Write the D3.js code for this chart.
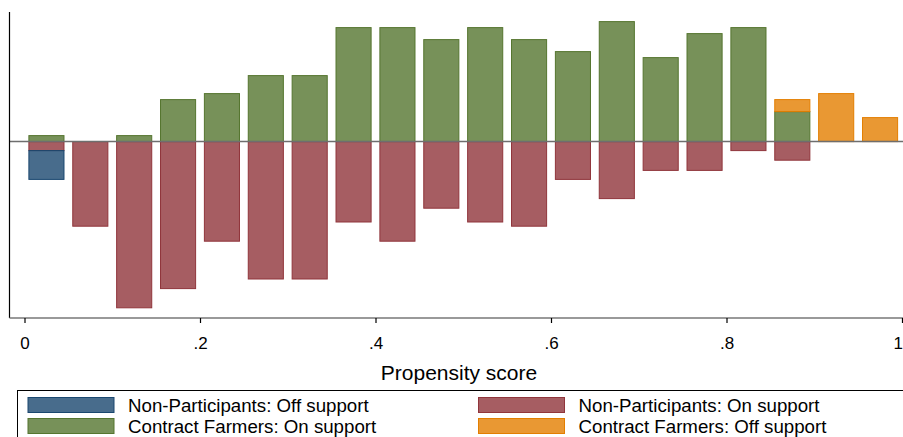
<!DOCTYPE html>
<html>
<head>
<meta charset="utf-8">
<script src="https://cdnjs.cloudflare.com/ajax/libs/d3/7.8.5/d3.min.js"></script>
<style>
body { margin: 0; background: #fff; }
#chart text { font-family: "Liberation Sans", Arial, Helvetica, sans-serif; fill: #000; }
</style>
</head>
<body>
<div id="chart"></div>
<script>
// bin centres of the propensity score histogram
var bins = [0.025, 0.075, 0.125, 0.175, 0.225, 0.275, 0.325, 0.375, 0.425, 0.475,
            0.525, 0.575, 0.625, 0.675, 0.725, 0.775, 0.825, 0.875, 0.925, 0.975];
// contract farmers (plotted above zero)
var treatedOn  = [1, 0, 1, 7, 8, 11, 11, 19, 19, 17, 19, 17, 15, 20, 14, 18, 19, 5, 0, 0];
var treatedOff = [0, 0, 0, 0, 0, 0, 0, 0, 0, 0, 0, 0, 0, 0, 0, 0, 0, 2, 8, 4];
// non-participants (plotted below zero)
var untreatedOn  = [1.5, 14.1, 27.7, 24.5, 16.6, 22.9, 22.9, 13.4, 16.6, 11.1,
                    13.4, 14.1, 6.3, 9.5, 4.8, 4.8, 1.5, 3.1, 0, 0];
var untreatedOff = [4.8, 0, 0, 0, 0, 0, 0, 0, 0, 0, 0, 0, 0, 0, 0, 0, 0, 0, 0, 0];
var xTicks = [0, 0.2, 0.4, 0.6, 0.8, 1];
var tickLabels = ["0", ".2", ".4", ".6", ".8", "1"];
var legendLabels = ["Non-Participants: Off support", "Non-Participants: On support",
                    "Contract Farmers: On support", "Contract Farmers: Off support"];

var colors = {
	uOff: {fill: "rgba(26,71,111,0.8)", stroke: "#1a476f"},
	uOn:  {fill: "rgba(144,53,59,0.8)", stroke: "#90353b"},
	tOn:  {fill: "rgba(85,117,47,0.8)", stroke: "#55752f"},
	tOff: {fill: "rgba(227,126,0,0.8)", stroke: "#e37e00"}
};

var width = 903, height = 437;
var plot = {left: 9.5, top: 12, bottom: 318};
var barWidth = 0.04;

var svg = d3.select("#chart").append("svg")
	.attr("width", width)
	.attr("height", height);

var x = d3.scaleLinear().domain([0, 1]).range([24.5, 902]);
var y = d3.scaleLinear().domain([-29.4, 21.6]).range([plot.bottom, plot.top]);

// build stacked segments
var segs = [];
bins.forEach(function(b, i) {
	segs.push({b: b, y0: 0, y1: treatedOn[i], c: colors.tOn});
	segs.push({b: b, y0: treatedOn[i], y1: treatedOn[i] + treatedOff[i], c: colors.tOff});
	segs.push({b: b, y0: 0, y1: -untreatedOn[i], c: colors.uOn});
	segs.push({b: b, y0: -untreatedOn[i], y1: -untreatedOn[i] - untreatedOff[i], c: colors.uOff});
});
segs = segs.filter(function(d) { return d.y1 !== d.y0; });

svg.selectAll(".bar")
	.data(segs)
  .enter().append("rect")
	.attr("class", "bar")
	.attr("x", function(d) { return x(d.b - barWidth / 2); })
	.attr("width", function(d) { return x(barWidth) - x(0); })
	.attr("y", function(d) { return y(Math.max(d.y0, d.y1)); })
	.attr("height", function(d) { return Math.abs(y(d.y0) - y(d.y1)); })
	.attr("fill", function(d) { return d.c.fill; })
	.attr("stroke", function(d) { return d.c.stroke; })
	.attr("stroke-width", 1);

// zero line
svg.append("line")
	.attr("x1", plot.left).attr("x2", width)
	.attr("y1", y(0)).attr("y2", y(0))
	.attr("stroke", "#6e6e6e").attr("stroke-width", 1.5);

// y axis line (no labels)
svg.append("line")
	.attr("x1", plot.left).attr("x2", plot.left)
	.attr("y1", plot.top).attr("y2", plot.bottom)
	.attr("stroke", "#000").attr("stroke-width", 1.2);

// x axis
var xAxis = svg.append("g")
	.attr("class", "x axis")
	.attr("transform", "translate(0," + plot.bottom + ")")
	.call(d3.axisBottom(x).tickValues(xTicks)
		.tickFormat(function(d, i) { return tickLabels[i]; })
		.tickSizeInner(5).tickSizeOuter(0).tickPadding(14));
xAxis.select(".domain").remove();
xAxis.insert("line", ":first-child")
	.attr("x1", plot.left).attr("x2", width)
	.attr("stroke", "#777").attr("stroke-width", 1.6);
xAxis.selectAll(".tick line").attr("stroke", "#000").attr("stroke-width", 1.2);
xAxis.selectAll(".tick text")
	.style("font-size", "17px")
	.attr("text-anchor", function(d) { return d === 1 ? "end" : "middle"; })
	.attr("dx", function(d) { return d === 1 ? 0.5 : 0; });

svg.append("text")
	.attr("x", 459).attr("y", 380)
	.attr("text-anchor", "middle")
	.style("font-size", "21px")
	.text("Propensity score");

// legend
var legend = svg.append("g").attr("class", "legend");
legend.append("rect")
	.attr("x", 17.5).attr("y", 390.5)
	.attr("width", 900).attr("height", 60)
	.attr("fill", "#fff").attr("stroke", "#000").attr("stroke-width", 1);

var legendColors = [colors.uOff, colors.uOn, colors.tOn, colors.tOff];
var items = legend.selectAll(".item")
	.data(legendLabels)
  .enter().append("g")
	.attr("class", "item")
	.attr("transform", function(d, i) {
		return "translate(" + (i % 2 === 0 ? 28 : 478.5) + "," + (i < 2 ? 397.5 : 418.5) + ")";
	});
items.append("rect")
	.attr("width", 86).attr("height", 15)
	.attr("fill", function(d, i) { return legendColors[i].fill; })
	.attr("stroke", function(d, i) { return legendColors[i].stroke; })
	.attr("stroke-width", 1);
items.append("text")
	.attr("x", 100).attr("y", 14.5)
	.style("font-size", "18.7px")
	.text(function(d) { return d; });
</script>
</body>
</html>
